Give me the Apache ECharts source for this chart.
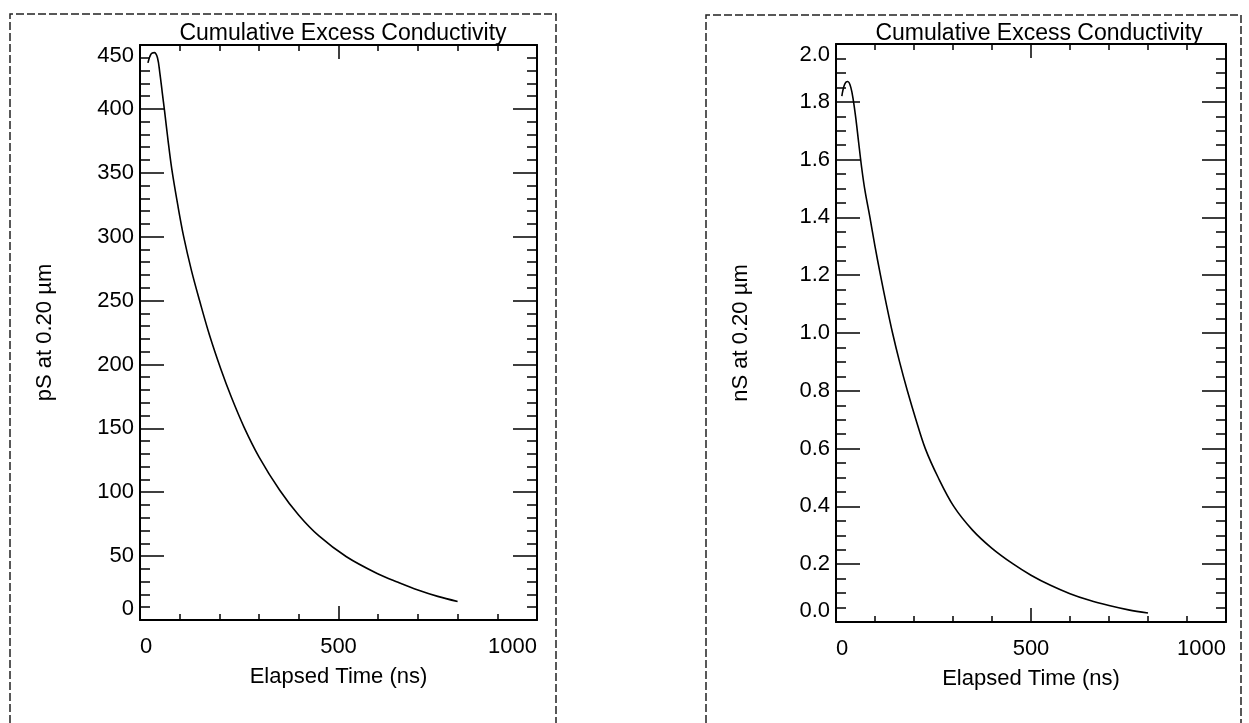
<!DOCTYPE html>
<html><head><meta charset="utf-8">
<script src="https://cdn.jsdelivr.net/npm/echarts@6/dist/echarts.min.js"></script>
<style>html,body{margin:0;padding:0;background:#fff}#c{width:1249px;height:723px}</style>
</head><body><div id="c"></div>
<script>
// ---- data ----
const titleText = 'Cumulative Excess Conductivity';
const xName = 'Elapsed Time (ns)';
const leftYName = 'pS at 0.20 µm';
const rightYName = 'nS at 0.20 µm';

const leftTime  = [20, 28, 36, 44, 50, 56, 62, 70, 80, 95, 110, 130, 150, 175, 204, 230, 262, 300, 352, 400, 450, 520, 600, 650, 700, 750, 800];
const leftValue = [436, 443, 444, 440, 428, 413, 398, 377, 353, 325, 300, 273, 250, 223, 196, 174.5, 151, 127.5, 101.5, 82, 66, 49.5, 36, 29.5, 23.5, 18.5, 14.5];

const rightTime  = [15, 22, 30, 38, 45, 52, 58, 66, 74, 87, 100, 114, 129, 145, 163, 183, 205, 229, 262, 302, 350, 400, 455, 500, 550, 600, 650, 700, 750, 800];
const rightValue = [1.82, 1.86, 1.87, 1.85, 1.80, 1.73, 1.66, 1.57, 1.495, 1.40, 1.30, 1.20, 1.10, 1.00, 0.90, 0.80, 0.70, 0.60, 0.50, 0.40, 0.318, 0.255, 0.20, 0.162, 0.127, 0.098, 0.075, 0.057, 0.042, 0.031];

const xMin = 0, xMax = 1000, xStep = 500, xMinorSplit = 5;
const leftYMin = 0, leftYMax = 450, leftYStep = 50, leftYMinorSplit = 5;
const rightYMin = 0, rightYMax = 2.0, rightYStep = 0.2, rightYMinorSplit = 4;

// ---- styling ----
const FONT = "'Liberation Sans', Arial, sans-serif";
const FS = 22;
const black = '#000';
const lineSt = {color: black, width: 2};
const tickSt = {color: black, width: 1.5};

function xAxes(gi) {
  const common = {
    gridIndex: gi, type: 'value', min: xMin, max: xMax, interval: xStep,
    axisLine: {show: true, onZero: false, lineStyle: lineSt},
    axisTick: {show: true, inside: true, length: 14, lineStyle: tickSt},
    minorTick: {show: true, splitNumber: xMinorSplit, length: 6, lineStyle: tickSt},
    splitLine: {show: false}, minorSplitLine: {show: false}
  };
  return [
    Object.assign({}, common, {
      position: 'bottom', name: xName, nameLocation: 'middle', nameGap: 46,
      nameTextStyle: {fontSize: FS, color: black, fontFamily: FONT},
      axisLabel: {show: true, fontSize: FS, color: black, fontFamily: FONT, margin: 16,
        formatter: v => String(v), alignMinLabel: 'left', alignMaxLabel: 'right'}
    }),
    Object.assign({}, common, {position: 'top', axisLabel: {show: false}})
  ];
}
function yAxes(gi, mn, mx, step, split, name, fmt) {
  const common = {
    gridIndex: gi, type: 'value', min: mn, max: mx, interval: step,
    axisLine: {show: true, onZero: false, lineStyle: lineSt},
    axisTick: {show: true, inside: true, length: 24, lineStyle: tickSt},
    minorTick: {show: true, splitNumber: split, length: 10, lineStyle: tickSt},
    splitLine: {show: false}, minorSplitLine: {show: false}
  };
  return [
    Object.assign({}, common, {
      position: 'left', name: name, nameLocation: 'middle', nameGap: 84,
      nameTextStyle: {fontSize: FS, color: black, fontFamily: FONT},
      axisLabel: {show: true, fontSize: FS, color: black, fontFamily: FONT, margin: 6,
        formatter: fmt, verticalAlignMinLabel: 'bottom', verticalAlignMaxLabel: 'top'}
    }),
    Object.assign({}, common, {position: 'right', axisLabel: {show: false}})
  ];
}

const grids = [
  {left: 140, top: 45, width: 397, height: 575},
  {left: 836, top: 44, width: 390, height: 578}
];

const chart = echarts.init(document.getElementById('c'), null, {renderer: 'canvas'});
chart.setOption({
  backgroundColor: '#fff',
  animation: false,
  title: [
    {text: titleText, left: 338, top: 17, textAlign: 'center',
      textStyle: {fontSize: 23, fontWeight: 'normal', color: black, fontFamily: FONT}},
    {text: titleText, left: 1034, top: 17, textAlign: 'center',
      textStyle: {fontSize: 23, fontWeight: 'normal', color: black, fontFamily: FONT}}
  ],
  grid: grids,
  xAxis: [].concat(xAxes(0), xAxes(1)),
  yAxis: [].concat(
    yAxes(0, leftYMin, leftYMax, leftYStep, leftYMinorSplit, leftYName, v => String(v)),
    yAxes(1, rightYMin, rightYMax, rightYStep, rightYMinorSplit, rightYName, v => v.toFixed(1))
  ),
  series: [
    {type: 'line', xAxisIndex: 0, yAxisIndex: 0, showSymbol: false, smooth: 0.35,
      lineStyle: {color: black, width: 1.6}, data: leftTime.map((t, i) => [t, leftValue[i]])},
    {type: 'line', xAxisIndex: 2, yAxisIndex: 2, showSymbol: false, smooth: 0.35,
      lineStyle: {color: black, width: 1.6}, data: rightTime.map((t, i) => [t, rightValue[i]])}
  ],
  graphic: [
    {type: 'polyline', silent: true, shape: {points: [[10, 723], [10, 14], [556, 14], [556, 723]]},
      style: {fill: null, stroke: '#222', lineWidth: 1.5, lineDash: [8, 3]}},
    {type: 'polyline', silent: true, shape: {points: [[706, 723], [706, 15], [1241, 15], [1241, 723]]},
      style: {fill: null, stroke: '#222', lineWidth: 1.5, lineDash: [8, 3]}}
  ]
});
</script>
</body></html>
